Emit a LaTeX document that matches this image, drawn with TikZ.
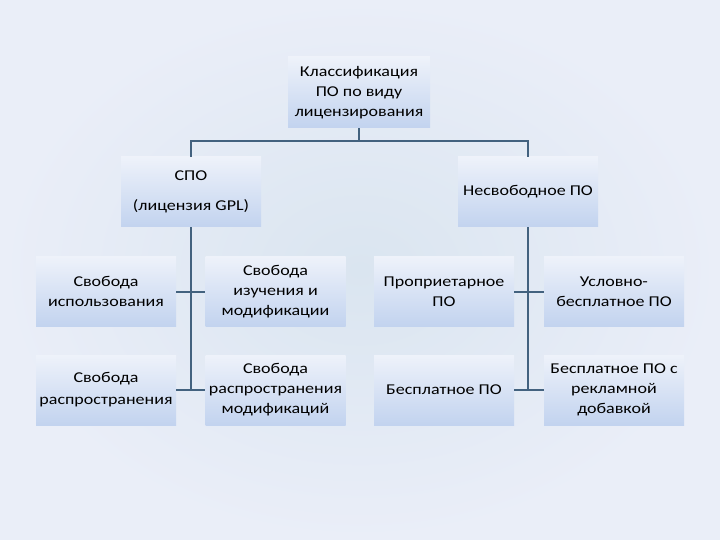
\documentclass[tikz,border=0pt]{standalone}
\usepackage{fontspec}
\setmainfont[FakeStretch=1.2]{Carlito}
\begin{document}
\begin{tikzpicture}[x=1pt,y=-1pt,
  box/.style={minimum width=140pt,minimum height=70pt,inner sep=2pt,align=center,
    top color=boxtop,bottom color=boxbot,draw=none,text=black,
    font=\fontsize{15}{20}\selectfont},
  conn/.style={draw=linec,line width=2pt}]
\definecolor{boxtop}{HTML}{EEF2FA}
\definecolor{boxbot}{HTML}{C2D3EF}
\definecolor{linec}{HTML}{43627F}
\definecolor{bgin}{HTML}{DAE5F0}
\definecolor{bgout}{HTML}{EAEEF8}
\shade[inner color=bgin,outer color=bgout] (0,0) rectangle (720,540);
\useasboundingbox (0,0) rectangle (720,540);
\node[box,minimum width=142pt,minimum height=71pt] (root) at (359,92.5) {Классификация\\ПО по виду\\лицензирования};
\node[box] (spo) at (191,192) {СПО\\[10pt](лицензия GPL)};
\node[box] (nspo) at (528,192) {Несвободное ПО};
\node[box] (a1) at (106,291.5) {Свобода\\использования};
\node[box] (a2) at (275.5,291.5) {Свобода\\изучения и\\модификации};
\node[box] (a3) at (444,291.5) {Проприетарное\\ПО};
\node[box] (a4) at (614,291.5) {Условно-\\бесплатное ПО};
\node[box] (b1) at (106,390) {Свобода\\[2pt]распространения};
\node[box] (b2) at (275.5,390) {Свобода\\распространения\\модификаций};
\node[box] (b3) at (444,390) {Бесплатное ПО};
\node[box] (b4) at (614,390) {Бесплатное ПО с\\рекламной\\добавкой};
\coordinate (hl) at (191,141);
\coordinate (hr) at (528,141);
\coordinate (sb) at (191,391);
\coordinate (nb) at (528,391);
\draw[conn] (root.south) -- (root.south |- hl);
\draw[conn] (spo.north) -- (hl) -- (hr) -- (nspo.north);
\draw[conn] (spo.south) -- (sb);
\draw[conn] (nspo.south) -- (nb);
\draw[conn] (a1.east) -- (a2.west);
\draw[conn] (b1.east) -- (b2.west);
\draw[conn] (a3.east) -- (a4.west);
\draw[conn] (b3.east) -- (b4.west);
\end{tikzpicture}
\end{document}
